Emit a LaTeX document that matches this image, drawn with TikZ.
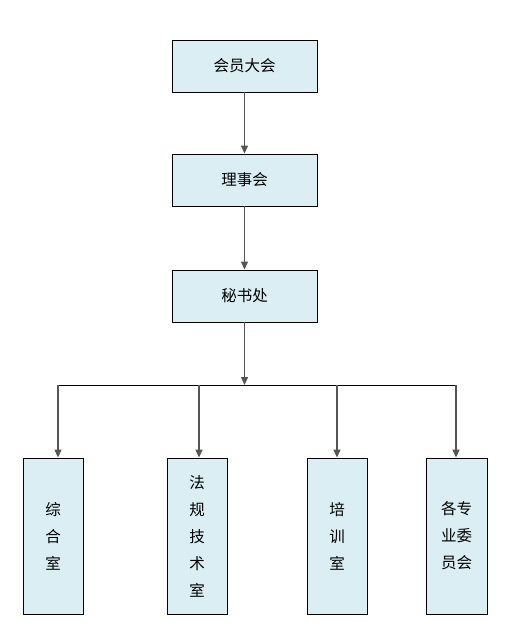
\documentclass[tikz,border=0pt]{standalone}
\usepackage{fontspec}
\setmainfont{Noto Sans CJK SC}
\usetikzlibrary{arrows.meta}
\begin{document}
\begin{tikzpicture}[x=1pt,y=-1pt,
  box/.style={draw=black,line width=0.9pt,fill=boxfill,inner sep=0pt,font=\fontsize{15.5}{27}\selectfont,align=center},
  conn/.style={draw=linegray,line width=1.3pt,-{Triangle[width=7pt,length=8pt]}},
  bar/.style={draw=black,line width=1pt}]
\definecolor{boxfill}{HTML}{DAEEF3}
\definecolor{linegray}{HTML}{555555}
\useasboundingbox (0,0) rectangle (505,641);
\node[box,minimum width=145pt,minimum height=52pt] (a) at (244.5,66) {会员大会};
\node[box,minimum width=145pt,minimum height=52pt] (b) at (244.5,180) {理事会};
\node[box,minimum width=145pt,minimum height=52pt] (c) at (244.5,296) {秘书处};
\coordinate (j) at (244.5,385);
\coordinate (l) at (58,385);
\coordinate (r) at (457,385);
\coordinate (j1) at (58,385);
\coordinate (j2) at (199,385);
\coordinate (j3) at (337,385);
\coordinate (j4) at (456,385);
\node[box,minimum width=60pt,minimum height=156pt] (d1) at (53,536) {综\\合\\室};
\node[box,minimum width=60pt,minimum height=156pt] (d2) at (197,536) {法\\规\\技\\术\\室};
\node[box,minimum width=60pt,minimum height=156pt] (d3) at (337,536) {培\\训\\室};
\node[box,minimum width=61pt,minimum height=156pt] (d4) at (456.5,536) {各专\\业委\\员会};
\draw[bar] (l) -- (r);
\draw[conn] (a) -- (b);
\draw[conn] (b) -- (c);
\draw[conn] (c) -- (j);
\draw[conn] (j1) -- (j1 |- d1.north);
\draw[conn] (j2) -- (j2 |- d2.north);
\draw[conn] (j3) -- (j3 |- d3.north);
\draw[conn] (j4) -- (j4 |- d4.north);
\end{tikzpicture}
\end{document}
